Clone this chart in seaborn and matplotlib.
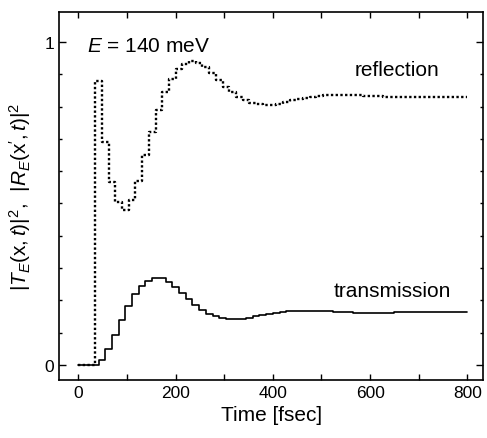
import numpy as np
import pandas as pd
import seaborn as sns
import matplotlib.pyplot as plt
from matplotlib.ticker import MultipleLocator

# sampling grid in fsec (59 samples from 0 to 800)
time = np.linspace(0, 800, 59)

transmission = [
    0.0, 0.0, 0.0, 0.015, 0.049, 0.093, 0.139, 0.183, 0.219, 0.245,
    0.260, 0.268, 0.268, 0.256, 0.240, 0.222, 0.204, 0.186, 0.170, 0.159,
    0.152, 0.146, 0.142, 0.141, 0.143, 0.146, 0.151, 0.155, 0.158, 0.161,
    0.164, 0.166, 0.167, 0.168, 0.168, 0.167, 0.167, 0.166, 0.165, 0.164,
    0.163, 0.162, 0.162, 0.162, 0.162, 0.162, 0.162, 0.163, 0.163, 0.163,
    0.163, 0.163, 0.164, 0.164, 0.164, 0.164, 0.164, 0.164, 0.164,
]

reflection = [
    0.0, 0.0, 0.0, 0.880, 0.690, 0.567, 0.505, 0.480, 0.510, 0.570,
    0.650, 0.720, 0.790, 0.845, 0.885, 0.915, 0.932, 0.940, 0.935, 0.922,
    0.905, 0.882, 0.862, 0.845, 0.830, 0.819, 0.812, 0.807, 0.805, 0.806,
    0.809, 0.814, 0.819, 0.823, 0.827, 0.830, 0.833, 0.835, 0.836, 0.837,
    0.837, 0.836, 0.835, 0.834, 0.833, 0.832, 0.831, 0.830, 0.829, 0.829,
    0.829, 0.829, 0.829, 0.829, 0.830, 0.830, 0.830, 0.830, 0.830,
]

df = pd.DataFrame({"time": time, "T": transmission, "R": reflection})

sns.set_style("ticks")
plt.rcParams['font.family'] = ['Liberation Sans', 'DejaVu Sans']
plt.rcParams['mathtext.fontset'] = 'custom'
plt.rcParams['mathtext.rm'] = 'Liberation Sans'
plt.rcParams['mathtext.it'] = 'Liberation Sans:italic'
plt.rcParams['text.color'] = 'black'
plt.rcParams['axes.labelcolor'] = 'black'

fig = plt.figure(figsize=(4.87, 4.39), dpi=100)
ax = fig.add_axes([0.1211, 0.1321, 0.8714, 0.8383])

sns.lineplot(data=df, x="time", y="R", ax=ax, color="black", lw=1.7,
             drawstyle="steps-mid", linestyle=(0, (1, 1)))
sns.lineplot(data=df, x="time", y="T", ax=ax, color="black", lw=1.2,
             drawstyle="steps-post")

ax.set_xlim(-40, 833)
ax.set_ylim(-0.047, 1.093)
ax.xaxis.set_major_locator(MultipleLocator(200))
ax.xaxis.set_minor_locator(MultipleLocator(100))
ax.yaxis.set_major_locator(MultipleLocator(1))
ax.yaxis.set_minor_locator(MultipleLocator(0.1))
ax.tick_params(which="both", direction="in", top=True, right=True,
               labelsize=12.5, width=1.0, colors="black")
ax.tick_params(axis="x", which="both", length=4.5)
ax.tick_params(axis="y", which="major", length=5)
ax.tick_params(axis="y", which="minor", length=2.5)
for s in ax.spines.values():
    s.set_linewidth(1.2)
    s.set_color("black")

ax.set_xlabel("Time [fsec]", fontsize=15, labelpad=4)
ax.set_ylabel(r"$|T_E(\mathrm{x},t)|^2$,  $|R_E(\mathrm{x}',t)|^2$", fontsize=15, labelpad=8)

ax.text(0.066, 0.91, r"$E$ = 140 meV", transform=ax.transAxes, fontsize=15, va="center")
ax.text(656, 0.916, "reflection", fontsize=15, ha="center", va="center")
ax.text(645, 0.231, "transmission", fontsize=15, ha="center", va="center")

fig.savefig("out.png", dpi=100)
